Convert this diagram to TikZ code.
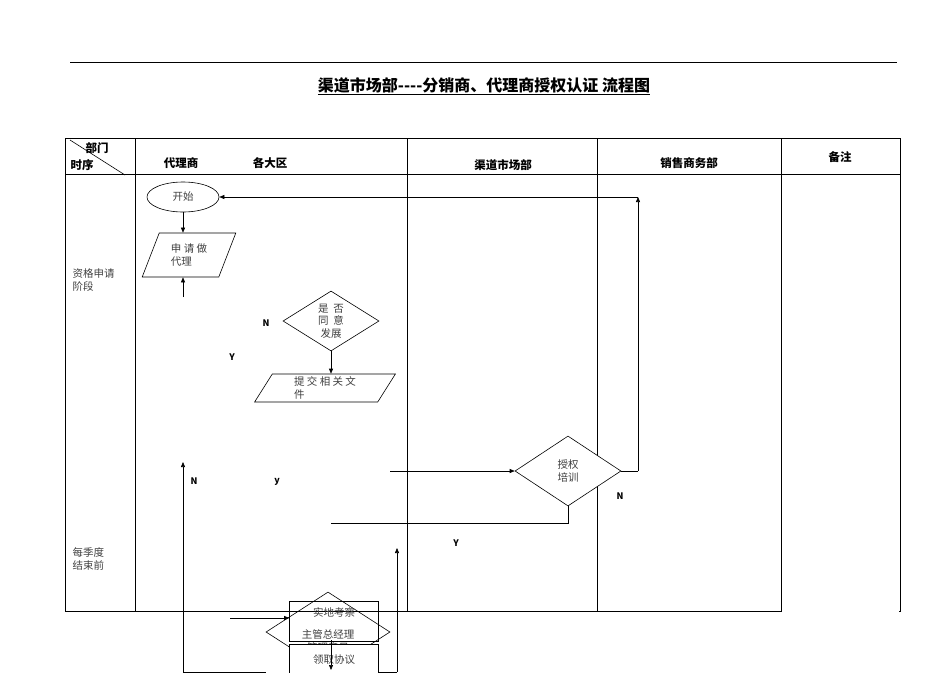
\documentclass[tikz,border=0pt]{standalone}
\usepackage{fontspec}
\setmainfont{Noto Sans CJK SC}
\usetikzlibrary{shapes.geometric,arrows.meta}
\begin{document}
\begin{tikzpicture}[x=1pt,y=-1pt,
  ln/.style={line width=0.6pt},
  arr/.style={ln,-{Triangle[length=5pt,width=4pt]}},
  hd/.style={font=\fontsize{11.5}{12}\selectfont\bfseries},
  tx/.style={font=\fontsize{10.5}{12.5}\selectfont, text=black!75},
  lb/.style={font=\fontsize{9}{10}\selectfont\bfseries\rmfamily},
  dia/.style={ln,diamond,draw,fill=white,aspect=1.6,inner sep=0pt},
  par/.style={ln,draw,trapezium,trapezium left angle=65,trapezium right angle=115,trapezium stretches=true,fill=white,inner sep=0pt}]
\useasboundingbox (0,0) rectangle (950,672);
% top rule and title
\draw[line width=0.5pt] (70,62) -- (897,62);
\node[font=\fontsize{16}{18}\selectfont\bfseries] (title) at (484,86) {\underline{渠道市场部{-}{-}{-}{-}分销商、代理商授权认证 流程图}};
% table
\draw[ln] (65,138) rectangle (900,611);
\draw[white,line width=2pt] (782,611) -- (899,611);
\draw[ln] (65,174) -- (900,174);
\foreach \x in {135,407,597,781} \draw[ln] (\x,138) -- (\x,611);
\draw[ln] (70,140) -- (125,175);
\node[hd] (hbm) at (97,148) {部门};
\node[hd] (hsx) at (82,165) {时序};
\node[hd] (h1) at (181,163) {代理商};
\node[hd] (h2) at (270,163) {各大区};
\node[hd] (h3) at (503,165) {渠道市场部};
\node[hd] (h4) at (689,163) {销售商务部};
\node[hd] (h5) at (840,157) {备注};
\node[tx,align=left,anchor=west] (s1) at (69,280) {资格申请\\阶段};
\node[tx,align=left,anchor=west] (s2) at (69,559) {每季度\\结束前};
% shapes
\node[ln,draw,ellipse,minimum width=72pt,minimum height=30pt,tx] (start) at (183,197) {开始};
\node[par,minimum width=94pt,minimum height=44pt,tx,align=left] (apply) at (189,255) {申 请 做\\代理};
\coordinate (a0) at (183,297);
\node[dia,minimum width=96pt,minimum height=60pt,tx,align=center] (agree) at (331,321) {是\ \ 否\\同\ \ 意\\发展};
\node[par,minimum width=142pt,minimum height=28pt,tx,align=left] (submit) at (325,388) {提 交 相 关 文\\件};
\node[dia,minimum width=106pt,minimum height=70pt,tx,align=center] (train) at (568,471) {授权\\培训};
\coordinate (tin) at (390,471);
\coordinate (tr) at (638,471);
\coordinate (tu) at (638,197);
\coordinate (tb) at (568,523);
\coordinate (tl) at (331,523);
% bottom cluster
\node[ln,draw,minimum width=89pt,minimum height=40pt,anchor=north] (visit) at (334,601) {};
\node[dia,minimum width=124pt,minimum height=80pt,fill=none] (mgr) at (328,632) {};
\node[tx] (visitT) at (334,612) {实地考察};
\node[tx,align=center] (mgrT) at (328,641) {主管总经理\\管理意见};
\node[ln,draw,fill=white,minimum width=89pt,minimum height=30pt,anchor=north,tx] (sign) at (334,644) {领取协议};
\coordinate (b1) at (183,672);
\coordinate (b2) at (266,672);
\coordinate (b3) at (397,672);
\coordinate (b4) at (379,672);
\coordinate (vin) at (230,618);
\coordinate (m1) at (331,640);
\coordinate (m2) at (331,670);
% connectors
\draw[arr] (start) -- (apply.north -| start);
\draw[arr] (a0) -- (apply.south -| a0);
\draw[arr] (agree) -- (submit.north -| agree);
\draw[arr] (tin) -- (train.west);
\draw[ln] (train.east) -- (tr);
\draw[arr] (tr) -- (tu);
\draw[arr] (tu) -- (start.east);
\draw[ln] (train.south) -- (tb) -- (tl);
\draw[arr] (b1) -- (183,462);
\draw[ln] (b1) -- (b2);
\draw[arr] (b3) -- (397,548);
\draw[ln] (b4) -- (b3);
\draw[arr] (vin) -- (visit.west |- vin);
\draw[arr] (m1) -- (m2);
% labels
\node[lb] (n1) at (266,323) {N};
\node[lb] (y1) at (232,357) {Y};
\node[lb] (n2) at (194,481) {N};
\node[lb] (y2) at (277,482) {y};
\node[lb] (n3) at (620,496) {N};
\node[lb] (y3) at (456,543) {Y};
\end{tikzpicture}
\end{document}
